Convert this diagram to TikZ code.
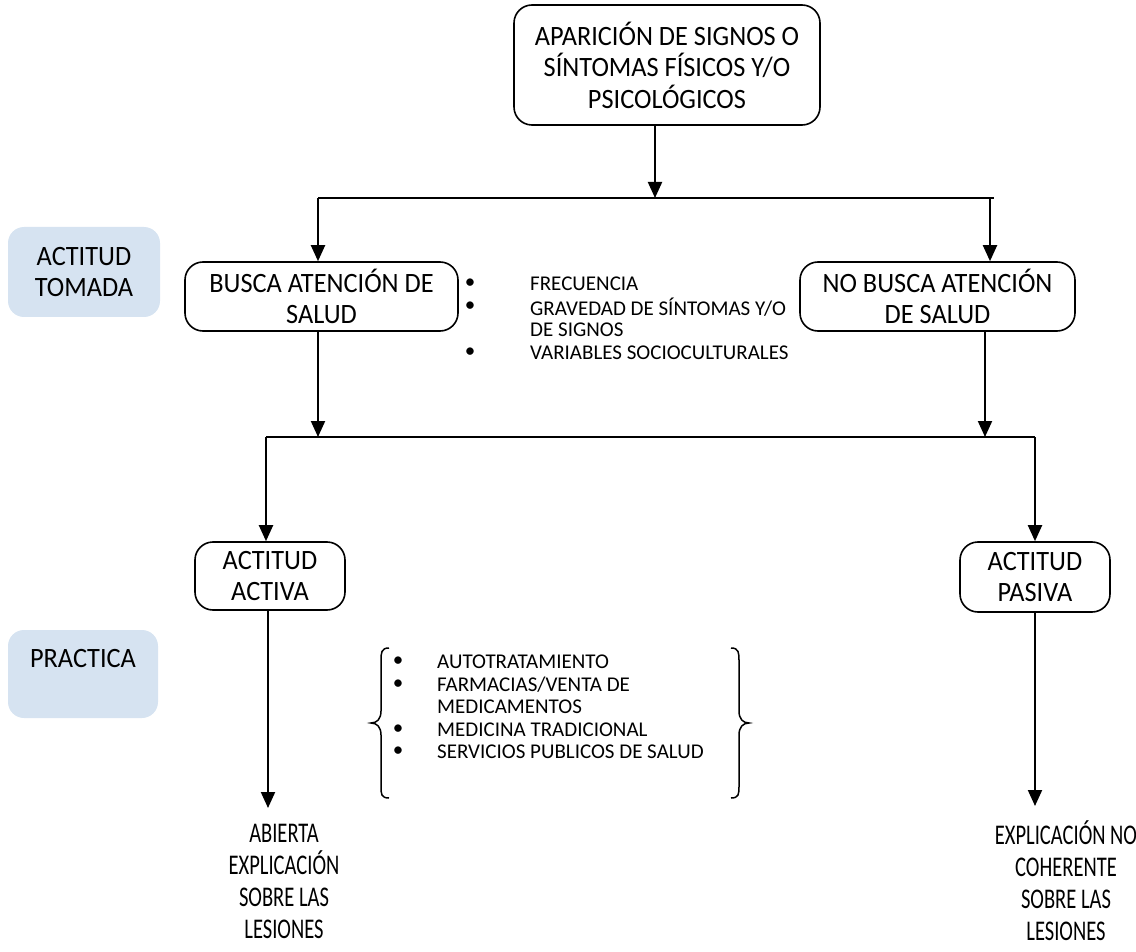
\documentclass[tikz,border=0pt]{standalone}
\usepackage{fontspec}
\setmainfont{Carlito}
\newfontfamily\boxfam[FakeStretch=0.94]{Carlito}
\newfontfamily\condfam[FakeStretch=0.72]{Carlito}
\usetikzlibrary{arrows.meta}
\definecolor{lblue}{RGB}{214,227,241}
\newcommand\bigf{\boxfam\fontsize{28}{31.5}\selectfont}
\newcommand\condf{\condfam\fontsize{28.5}{32}\selectfont}
\newcommand\smf{\fontsize{21}{22}\selectfont}
\begin{document}
\begin{tikzpicture}[x=1pt,y=-1pt,
  box/.style={draw,line width=1.6pt,rounded corners=18pt,align=center,inner sep=0pt,font=\bigf},
  lbl/.style={fill=lblue,rounded corners=16pt,align=center,inner sep=0pt,font=\bigf},
  txt/.style={align=center,inner sep=0pt,font=\condf},
  item/.style={anchor=west,inner sep=0pt,font=\smf},
  bul/.style={inner sep=0pt,font=\smf},
  ln/.style={line width=2pt},
  arr/.style={line width=2pt,-{Triangle[width=14pt,length=16pt]}},
  brc/.style={line width=1.5pt}]
\useasboundingbox (0,0) rectangle (1136,952);

% labels
\node[lbl,minimum width=152pt,minimum height=90pt] (tomada) at (84,272) {ACTITUD\\TOMADA};
\node[lbl,minimum width=150pt,minimum height=88pt] (practica) at (83,674) {PRACTICA\\\phantom{X}};

% boxes
\node[box,minimum width=306pt,minimum height=120pt] (top) at (667,65) {APARICIÓN DE SIGNOS O\\SÍNTOMAS FÍSICOS Y/O\\PSICOLÓGICOS};
\node[box,minimum width=273pt,minimum height=69pt] (busca) at (321.5,296.5) {BUSCA ATENCIÓN DE\\SALUD};
\node[box,minimum width=275pt,minimum height=69pt] (nobusca) at (937.5,296.5) {NO BUSCA ATENCIÓN\\DE SALUD};
\node[box,minimum width=150pt,minimum height=68pt] (activa) at (270,576) {ACTITUD\\ACTIVA};
\node[box,minimum width=150pt,minimum height=70pt] (pasiva) at (1035,577) {ACTITUD\\PASIVA};

% bottom texts
\node[txt] (abierta) at (284,881) {ABIERTA\\EXPLICACIÓN\\SOBRE LAS\\LESIONES};
\node[txt] (nocoh) at (1066,881) {EXPLICACIÓN NO\\COHERENTE\\SOBRE LAS\\LESIONES};

% junctions
\coordinate (j1) at (655,198);
\coordinate (j1l) at (318,198);
\coordinate (j1r) at (990,198);
\coordinate (j1e) at (994,198);
\coordinate (j2l) at (266,437);
\coordinate (j2r) at (1035,437);
\coordinate (j2a) at (318,437);
\coordinate (j2b) at (985,437);
\coordinate (endA) at (268,808);
\coordinate (endB) at (1035,806);

\draw[arr] (j1 |- top.south) -- (j1);
\draw[ln] (j1l) -- (j1e);
\draw[arr] (j1l) -- (j1l |- busca.north);
\draw[arr] (j1r) -- (j1r |- nobusca.north);

\draw[arr] (j2a |- busca.south) -- (j2a);
\draw[arr] (j2b |- nobusca.south) -- (j2b);
\draw[ln] (j2l) -- (j2r);
\draw[arr] (j2l) -- (j2l |- activa.north);
\draw[arr] (j2r) -- (pasiva.north);

\draw[arr] (endA |- activa.south) -- (endA);
\draw[arr] (pasiva.south) -- (endB);

% list 1
\node[bul] (b1) at (470,284) {•};
\node[bul] (b2) at (470,307) {•};
\node[bul] (b3) at (470,353) {•};
\node[item] (i1) at (530,284) {FRECUENCIA};
\node[item] (i2) at (530,307) {GRAVEDAD DE SÍNTOMAS Y/O};
\node[item] (i2b) at (530,330) {DE SIGNOS};
\node[item] (i3) at (530,353) {VARIABLES SOCIOCULTURALES};

% list 2
\node[bul] (c1) at (398,662) {•};
\node[bul] (c2) at (398,684.5) {•};
\node[bul] (c3) at (398,729.5) {•};
\node[bul] (c4) at (398,752) {•};
\node[item] (k1) at (437,662) {AUTOTRATAMIENTO};
\node[item] (k2) at (437,684.5) {FARMACIAS/VENTA DE};
\node[item] (k2b) at (437,707) {MEDICAMENTOS};
\node[item] (k3) at (437,729.5) {MEDICINA TRADICIONAL};
\node[item] (k4) at (437,752) {SERVICIOS PUBLICOS DE SALUD};

% braces
\draw[brc] (389,648) .. controls (381,648) and (381,653) .. (381,661) -- (381,711)
  .. controls (381,719) and (377,723) .. (371,723)
  .. controls (377,723) and (381,727) .. (381,735) -- (381,786)
  .. controls (381,794) and (381,798) .. (389,798);
\draw[brc] (731,648) .. controls (739,648) and (739,653) .. (739,661) -- (739,711)
  .. controls (739,719) and (743,723) .. (749,723)
  .. controls (743,723) and (739,727) .. (739,735) -- (739,786)
  .. controls (739,794) and (739,798) .. (731,798);
\end{tikzpicture}
\end{document}
